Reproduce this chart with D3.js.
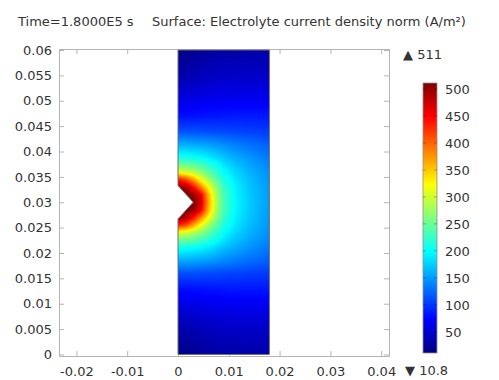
<!DOCTYPE html>
<html>
<head>
<meta charset="utf-8">
<script src="https://cdn.jsdelivr.net/npm/d3@7"></script>
<style>
body { margin: 0; background: #fff; }
text { font-family: "DejaVu Sans", sans-serif; fill: #333; }
</style>
</head>
<body>
<div id="chart"></div>
<script>
var titleTime = "Time=1.8000E5 s";
var titleSurface = "Surface: Electrolyte current density norm (A/m\u00B2)";

var xTicks = [-0.02, -0.01, 0, 0.01, 0.02, 0.03, 0.04];
var yTicks = [0, 0.005, 0.01, 0.015, 0.02, 0.025, 0.03, 0.035, 0.04, 0.045, 0.05, 0.055, 0.06];
var barTicks = [50, 100, 150, 200, 250, 300, 350, 400, 450, 500];
var rangeMin = 10.8, rangeMax = 511;

// geometry of the electrolyte domain (m), notch on the left side
var domainOutline = [[0, 0], [0.018, 0], [0.018, 0.06], [0, 0.06], [0, 0.0333], [0.003, 0.03], [0, 0.0267]];

// current density (A/m^2), rows = gridY, cols = gridX
var gridX = [0, 0.0015, 0.003, 0.0045, 0.006, 0.0075, 0.009, 0.0115, 0.014, 0.018];
var gridY = [0, 0.005, 0.009, 0.013, 0.016, 0.0185, 0.021, 0.0225, 0.024, 0.0255, 0.027, 0.0285,
             0.03, 0.0315, 0.033, 0.0345, 0.036, 0.0375, 0.039, 0.0415, 0.044, 0.047, 0.051, 0.055, 0.06];
var gridJ = [
    [14, 16, 20, 24, 27, 29, 30, 31, 32, 32],
    [32, 34, 37, 40, 42, 44, 45, 46, 46, 46],
    [55, 56, 57, 58, 60, 61, 62, 63, 63, 63],
    [80, 80, 81, 82, 83, 83, 84, 85, 85, 85],
    [112, 112, 112, 111, 110, 109, 108, 106, 104, 102],
    [158, 157, 155, 153, 150, 146, 141, 134, 128, 119],
    [205, 203, 200, 195, 187, 178, 168, 156, 146, 132],
    [250, 248, 240, 230, 217, 202, 186, 168, 155, 138],
    [310, 300, 285, 265, 244, 222, 200, 178, 162, 143],
    [435, 415, 370, 318, 278, 244, 213, 186, 167, 146],
    [505, 490, 445, 385, 323, 268, 225, 191, 171, 148],
    [520, 515, 500, 455, 360, 283, 232, 194, 173, 149],
    [520, 520, 511, 470, 368, 286, 234, 195, 174, 150],
    [520, 515, 500, 455, 360, 283, 232, 194, 173, 149],
    [505, 490, 445, 385, 323, 268, 225, 191, 171, 148],
    [435, 415, 370, 318, 278, 244, 213, 186, 167, 146],
    [310, 300, 285, 265, 244, 222, 200, 178, 162, 143],
    [250, 248, 240, 230, 217, 202, 186, 168, 155, 138],
    [205, 203, 200, 195, 187, 178, 168, 156, 146, 132],
    [158, 157, 155, 153, 150, 146, 141, 134, 128, 119],
    [112, 112, 112, 111, 110, 109, 108, 106, 104, 102],
    [80, 80, 81, 82, 83, 83, 84, 85, 85, 85],
    [55, 56, 57, 58, 60, 61, 62, 63, 63, 63],
    [32, 34, 37, 40, 42, 44, 45, 46, 46, 46],
    [14, 16, 20, 24, 27, 29, 30, 31, 32, 32]
];

var width = 499, height = 380;
var frame = {left: 59, right: 389, top: 49, bottom: 356};

var svg = d3.select("#chart")
    .append("svg")
    .attr("width", width)
    .attr("height", height);

var x = d3.scaleLinear().domain([-0.02343, 0.04154]).range([frame.left, frame.right]);
var y = d3.scaleLinear().domain([-0.0003, 0.0602]).range([frame.bottom, frame.top]);

// jet-like rainbow
var jetT = [0, 0.125, 0.375, 0.625, 0.875, 1];
var color = d3.scaleLinear()
    .domain(jetT.map(function(t) { return rangeMin + t * (rangeMax - rangeMin); }))
    .range(["#00007f", "#0000ff", "#00ffff", "#ffff00", "#ff0000", "#7f0000"])
    .clamp(true);

function sample(px, py) {
    var i = Math.max(0, Math.min(gridX.length - 2, d3.bisectRight(gridX, px) - 1));
    var j = Math.max(0, Math.min(gridY.length - 2, d3.bisectRight(gridY, py) - 1));
    var tx = (px - gridX[i]) / (gridX[i + 1] - gridX[i]);
    var ty = (py - gridY[j]) / (gridY[j + 1] - gridY[j]);
    tx = Math.max(0, Math.min(1, tx));
    ty = Math.max(0, Math.min(1, ty));
    var a = gridJ[j][i] * (1 - tx) + gridJ[j][i + 1] * tx;
    var b = gridJ[j + 1][i] * (1 - tx) + gridJ[j + 1][i + 1] * tx;
    return a * (1 - ty) + b * ty;
}

// raster of the surface
var ix0 = x(0), ix1 = x(0.018), iy0 = y(0.06), iy1 = y(0);
var cw = Math.ceil(ix1 - ix0), ch = Math.ceil(iy1 - iy0);
var canvas = document.createElement("canvas");
canvas.width = cw * 2;
canvas.height = ch * 2;
var ctx = canvas.getContext("2d");
var img = ctx.createImageData(canvas.width, canvas.height);
for (var r = 0; r < canvas.height; r++) {
    for (var c = 0; c < canvas.width; c++) {
        var dx = x.invert(ix0 + (c + 0.5) * (ix1 - ix0) / canvas.width);
        var dy = y.invert(iy0 + (r + 0.5) * (iy1 - iy0) / canvas.height);
        var col = d3.rgb(color(sample(dx, dy)));
        var k = (r * canvas.width + c) * 4;
        img.data[k] = col.r;
        img.data[k + 1] = col.g;
        img.data[k + 2] = col.b;
        img.data[k + 3] = 255;
    }
}
ctx.putImageData(img, 0, 0);

var line = d3.line()
    .x(function(d) { return x(d[0]); })
    .y(function(d) { return y(d[1]); });

var defs = svg.append("defs");
defs.append("clipPath").attr("id", "dom")
    .append("path")
    .attr("d", line(domainOutline) + "Z");

// frame + ticks on all four sides, pointing inward
var tickCol = "#b4b4b4";
function styleAxis(g) {
    g.selectAll(".domain").attr("stroke", tickCol);
    g.selectAll(".tick line").attr("stroke", tickCol);
    g.selectAll("text").attr("fill", "#333").style("font-size", "13px")
        .style("font-family", "'DejaVu Sans', sans-serif");
}

svg.append("g")
    .attr("transform", "translate(0," + frame.bottom + ")")
    .call(d3.axisBottom(x).tickValues(xTicks).tickSize(-5).tickSizeOuter(0).tickPadding(11)
        .tickFormat(function(d) { return String(d); }))
    .call(styleAxis);

svg.append("g")
    .attr("transform", "translate(0," + frame.top + ")")
    .call(d3.axisTop(x).tickValues(xTicks).tickSize(-5).tickSizeOuter(0).tickFormat(""))
    .call(styleAxis);

svg.append("g")
    .attr("transform", "translate(" + frame.left + ",0)")
    .call(d3.axisLeft(y).tickValues(yTicks).tickSize(-5).tickSizeOuter(0).tickPadding(7)
        .tickFormat(function(d) { return String(d); }))
    .call(styleAxis);

svg.append("g")
    .attr("transform", "translate(" + frame.right + ",0)")
    .call(d3.axisRight(y).tickValues(yTicks).tickSize(-5).tickSizeOuter(0).tickFormat(""))
    .call(styleAxis);

svg.append("image")
    .attr("x", ix0)
    .attr("y", iy0)
    .attr("width", ix1 - ix0)
    .attr("height", iy1 - iy0)
    .attr("preserveAspectRatio", "none")
    .attr("clip-path", "url(#dom)")
    .attr("href", canvas.toDataURL());

svg.append("path")
    .attr("d", line(domainOutline) + "Z")
    .attr("fill", "none")
    .attr("stroke", "#707070")
    .attr("stroke-width", 1);

// title
svg.append("text").attr("x", 18).attr("y", 26).style("font-size", "13px").text(titleTime);
svg.append("text").attr("x", 152).attr("y", 26).style("font-size", "13px").text(titleSurface);

// colour legend
var bar = {x: 423, w: 14, top: 83, bottom: 353};
var barY = d3.scaleLinear().domain([rangeMin, rangeMax]).range([bar.bottom, bar.top]);

var grad = defs.append("linearGradient").attr("id", "cbar")
    .attr("x1", 0).attr("y1", 1).attr("x2", 0).attr("y2", 0);
d3.range(0, 1.0001, 0.025).forEach(function(t) {
    grad.append("stop")
        .attr("offset", t)
        .attr("stop-color", color(rangeMin + t * (rangeMax - rangeMin)));
});

svg.append("rect")
    .attr("x", bar.x).attr("y", bar.top)
    .attr("width", bar.w).attr("height", bar.bottom - bar.top)
    .attr("fill", "url(#cbar)")
    .attr("stroke", "#909090")
    .attr("stroke-width", 0.8);

var barTickG = svg.append("g");
barTicks.forEach(function(v) {
    barTickG.append("line")
        .attr("x1", bar.x).attr("x2", bar.x + 3)
        .attr("y1", barY(v)).attr("y2", barY(v))
        .attr("stroke", "rgba(0,0,0,0.25)");
    barTickG.append("line")
        .attr("x1", bar.x + bar.w - 3).attr("x2", bar.x + bar.w)
        .attr("y1", barY(v)).attr("y2", barY(v))
        .attr("stroke", "rgba(0,0,0,0.25)");
    barTickG.append("text")
        .attr("x", bar.x + bar.w + 8)
        .attr("y", barY(v))
        .attr("dy", "0.36em")
        .style("font-size", "13px")
        .text(v);
});

svg.append("text").attr("x", 403).attr("y", 54).attr("dy", "0.36em")
    .style("font-size", "13px").text("\u25B2 " + rangeMax);
svg.append("text").attr("x", 405).attr("y", 370).attr("dy", "0.36em")
    .style("font-size", "13px").text("\u25BC " + rangeMin);
</script>
</body>
</html>
